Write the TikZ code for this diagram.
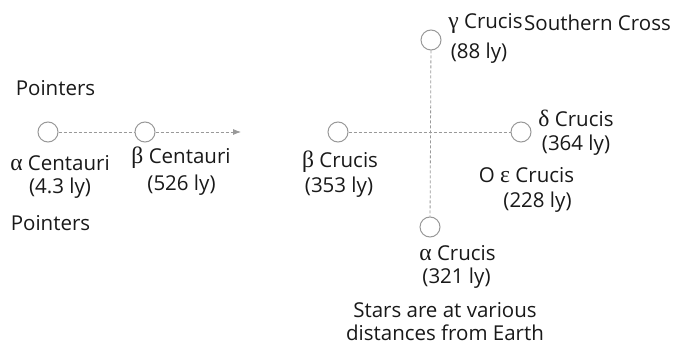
\documentclass[tikz,border=0pt]{standalone}
\usepackage{fontspec}
\setmainfont{Open Sans}
\newfontfamily\greekfont[Scale=1.15]{Liberation Serif}
\usetikzlibrary{arrows.meta}
\newcommand{\gk}[1]{{\greekfont #1}}
\tikzset{
  star/.style={circle, draw=black!40, fill=white, line width=1pt, minimum size=20pt, inner sep=0pt},
  guide/.style={draw=black!40, line width=0.8pt, dash pattern=on 3pt off 2pt},
  lbl/.style={inner sep=0pt, font=\fontsize{20.5}{24}\selectfont, text=black!90}
}
\begin{document}
\begin{tikzpicture}[x=1pt, y=-1pt]
\useasboundingbox (0,0) rectangle (676,347);
\fill[white] (0,0) rectangle (676,347);

% the Pointers
\node[star] (aCen) at (48,132) {};
\node[star] (bCen) at (145,132) {};
\coordinate (ptr) at (241,132);

% the Southern Cross
\node[star] (gCru) at (431,40) {};
\node[star] (aCru) at (430,227) {};
\node[star] (bCru) at (338,132) {};
\node[star] (dCru) at (521,132) {};

% guide lines
\draw[guide] (aCen) -- (bCen);
\draw[guide, -{Latex[length=8pt, width=6pt]}, black!40] (bCen) -- (ptr);
\draw[guide] (gCru) -- (aCru);
\draw[guide] (bCru) -- (dCru);

% labels
\node[lbl] (p1) at (55.5,88) {Pointers};
\node[lbl] (p2) at (50.5,223) {Pointers};
\node[lbl] (l1) at (60,163) {\gk{α} Centauri};
\node[lbl] (l2) at (60,188) {(4.3 ly)};
\node[lbl] (l3) at (181,158) {\gk{β} Centauri};
\node[lbl] (l4) at (181.5,185) {(526 ly)};
\node[lbl] (l5) at (485.5,23) {\gk{γ} Crucis};
\node[lbl] (l6) at (597.5,23) {Southern Cross};
\node[lbl] (l7) at (479,53) {(88 ly)};
\node[lbl] (l8) at (576,118) {\gk{δ} Crucis};
\node[lbl] (l9) at (576,145) {(364 ly)};
\node[lbl] (l10) at (340,162) {\gk{β} Crucis};
\node[lbl] (l11) at (339,187) {(353 ly)};
\node[lbl] (l12) at (526.5,175) {O \gk{ε} Crucis};
\node[lbl] (l13) at (537.5,202) {(228 ly)};
\node[lbl] (l14) at (457.5,253) {\gk{α} Crucis};
\node[lbl] (l15) at (456.5,278) {(321 ly)};
\node[lbl] (l16) at (445,310) {Stars are at various};
\node[lbl] (l17) at (445,333) {distances from Earth};
\end{tikzpicture}
\end{document}
